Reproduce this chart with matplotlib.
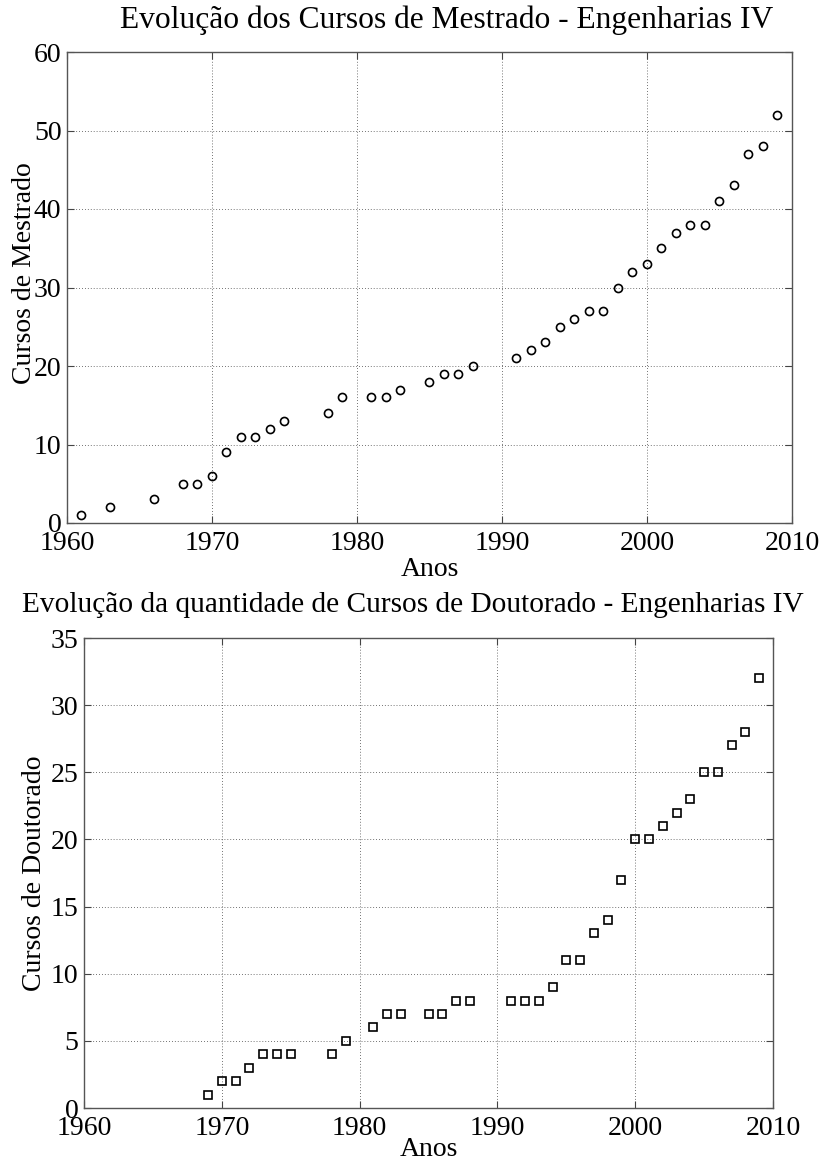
import matplotlib
matplotlib.use("Agg")
import matplotlib.pyplot as plt

# Mestrado (top)
anos_mestrado = [1961, 1963, 1966, 1968, 1969, 1970, 1971, 1972, 1973, 1974, 1975,
                 1978, 1979, 1981, 1982, 1983, 1985, 1986, 1987, 1988,
                 1991, 1992, 1993, 1994, 1995, 1996, 1997, 1998, 1999, 2000,
                 2001, 2002, 2003, 2004, 2005, 2006, 2007, 2008, 2009]
cursos_mestrado = [1, 2, 3, 5, 5, 6, 9, 11, 11, 12, 13,
                   14, 16, 16, 16, 17, 18, 19, 19, 20,
                   21, 22, 23, 25, 26, 27, 27, 30, 32, 33,
                   35, 37, 38, 38, 41, 43, 47, 48, 52]

# Doutorado (bottom)
anos_doutorado = [1969, 1970, 1971, 1972, 1973, 1974, 1975, 1978, 1979,
                  1981, 1982, 1983, 1985, 1986, 1987, 1988,
                  1991, 1992, 1993, 1994, 1995, 1996, 1997, 1998, 1999, 2000,
                  2001, 2002, 2003, 2004, 2005, 2006, 2007, 2008, 2009]
cursos_doutorado = [1, 2, 2, 3, 4, 4, 4, 4, 5,
                    6, 7, 7, 7, 7, 8, 8,
                    8, 8, 8, 9, 11, 11, 13, 14, 17, 20,
                    20, 21, 22, 23, 25, 25, 27, 28, 32]

xticks = [1960, 1970, 1980, 1990, 2000, 2010]
yticks_top = [0, 10, 20, 30, 40, 50, 60]
yticks_bot = [0, 5, 10, 15, 20, 25, 30, 35]

plt.rcParams['font.family'] = ['Liberation Serif', 'DejaVu Serif']

W, H = 824, 1165
fig = plt.figure(figsize=(W / 100, H / 100), dpi=100)

def px_axes(l, r, t, b):
    return fig.add_axes([l / W, (H - b) / H, (r - l) / W, (b - t) / H])

ax1 = px_axes(67, 792, 52, 523)
ax2 = px_axes(84, 773, 638, 1108)

def style(ax, yticks, ylim):
    ax.set_xlim(1960, 2010)
    ax.set_ylim(*ylim)
    ax.set_xticks(xticks)
    ax.set_yticks(yticks)
    ax.tick_params(direction='in', top=True, right=True, labelsize=20,
                   length=5, width=0.8, color='#444444', pad=4)
    ax.tick_params(axis='x', pad=6)
    for s in ax.spines.values():
        s.set_color('#555555')
        s.set_linewidth(1.0)
    ax.grid(True, linestyle=(0, (1, 2.5)), color='#444444', linewidth=0.6)

ax1.plot(anos_mestrado, cursos_mestrado, linestyle='none', marker='o',
         markersize=5.8, markerfacecolor='none', markeredgecolor='black',
         markeredgewidth=1.2)
style(ax1, yticks_top, (0, 60))
ax1.set_xlabel('Anos', fontsize=20)
ax1.xaxis.set_label_coords(0.5, (523 - 570) / 471)
ax1.xaxis.label.set_va('center')
ax1.set_ylabel('Cursos de Mestrado', fontsize=20)
ax1.yaxis.set_label_coords((25 - 67) / 725, 0.53)
ax1.yaxis.label.set_va('center')
fig.text(447 / W, 1 - 20 / H, 'Evolução dos Cursos de Mestrado - Engenharias IV',
         ha='center', va='center', fontsize=22.7)

ax2.plot(anos_doutorado, cursos_doutorado, linestyle='none', marker='s',
         markersize=6, markerfacecolor='none', markeredgecolor='black',
         markeredgewidth=1.2)
style(ax2, yticks_bot, (0, 35))
ax2.set_xlabel('Anos', fontsize=20)
ax2.xaxis.set_label_coords(0.5, (1108 - 1150) / 470)
ax2.xaxis.label.set_va('center')
ax2.set_ylabel('Cursos de Doutorado', fontsize=20)
ax2.yaxis.set_label_coords((35 - 84) / 689, 0.5)
ax2.yaxis.label.set_va('center')
fig.text(413 / W, 1 - 605 / H,
         'Evolução da quantidade de Cursos de Doutorado - Engenharias IV',
         ha='center', va='center', fontsize=21.2)

fig.savefig('out.png', dpi=100)
